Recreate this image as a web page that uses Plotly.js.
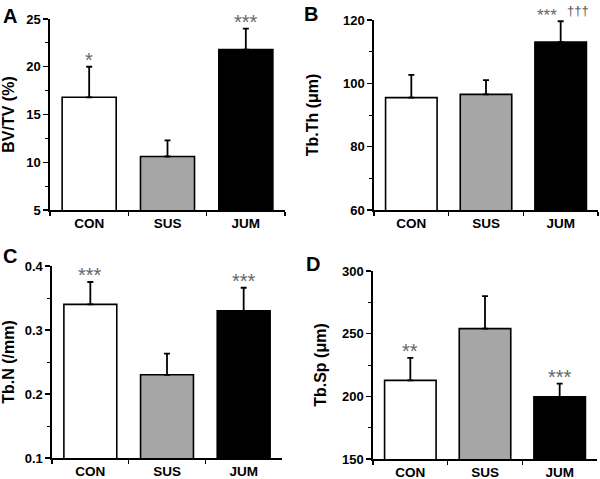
<!DOCTYPE html>
<html>
<head>
<meta charset="utf-8">
<script src="https://cdn.plot.ly/plotly-3.0.1.min.js"></script>
<style>html,body{margin:0;padding:0;background:#fff;}#chart{width:600px;height:479px;}</style>
</head>
<body>
<div id="chart"></div>
<script>
const categories = ["CON", "SUS", "JUM"];
const barColors = ["#ffffff", "#a6a6a6", "#000000"];

const bvtv = [16.8, 10.6, 21.8];
const bvtvErr = [3.2, 1.7, 2.2];
const bvtvSig = ["*", "", "***"];
const bvtvTicks = [5, 10, 15, 20, 25];

const tbth = [95.5, 96.5, 113.0];
const tbthErr = [7.2, 4.5, 6.6];
const tbthSig = ["", "", "***"];
const tbthSigVsSus = ["", "", "\u2020\u2020\u2020"];
const tbthTicks = [60, 80, 100, 120];

const tbn = [0.34, 0.23, 0.33];
const tbnErr = [0.035, 0.033, 0.036];
const tbnSig = ["***", "", "***"];
const tbnTicks = [0.1, 0.2, 0.3, 0.4];

const tbsp = [212.7, 254.0, 199.6];
const tbspErr = [18, 26, 10.5];
const tbspSig = ["**", "", "***"];
const tbspTicks = [150, 200, 250, 300];

const FONT = "Liberation Sans, Arial, sans-serif";

const panels = [
  {vals: bvtv, err: bvtvErr, sig: bvtvSig, ticks: bvtvTicks, title: "BV/TV (%)", range: [5, 25], minor: 2.5, label: "A",
   px: [50, 285], py: [19, 210], standoff: 8, sigSize: 20, sigShift: 0},
  {vals: tbth, err: tbthErr, sig: tbthSig, ticks: tbthTicks, title: "Tb.Th (\u03bcm)", range: [60, 120], minor: 10, label: "B",
   px: [374, 598], py: [20, 210], standoff: 20, sigSize: 17, sigShift: -14},
  {vals: tbn, err: tbnErr, sig: tbnSig, ticks: tbnTicks, title: "Tb.N (/mm)", range: [0.1, 0.4], minor: 0.05, label: "C",
   px: [52, 282], py: [266, 458], standoff: 9, sigSize: 20, sigShift: 0},
  {vals: tbsp, err: tbspErr, sig: tbspSig, ticks: tbspTicks, title: "Tb.Sp (\u03bcm)", range: [150, 300], minor: 25, label: "D",
   px: [373, 597], py: [271, 459], standoff: 11, sigSize: 20, sigShift: 0}
];
const labelPos = [[1, 3], [302, 1], [1, 243], [304, 251]];

const W = 600, H = 479;
const traces = [];
const layout = {
  width: W, height: H,
  margin: {l: 0, r: 0, t: 0, b: 0},
  paper_bgcolor: "#fff", plot_bgcolor: "#fff",
  showlegend: false,
  font: {family: FONT, color: "#000"},
  annotations: []
};

panels.forEach((p, i) => {
  const n = i + 1;
  const xa = n === 1 ? "x" : "x" + n;
  const ya = n === 1 ? "y" : "y" + n;
  traces.push({
    type: "bar", x: categories, y: p.vals, xaxis: xa, yaxis: ya,
    width: 0.69,
    marker: {color: barColors, line: {color: "#000", width: 1.6}},
    error_y: {type: "data", symmetric: false, array: p.err, arrayminus: p.err.map(() => 0),
              color: "#000", thickness: 1.8, width: 3},
    hoverinfo: "none"
  });
  const xk = n === 1 ? "xaxis" : "xaxis" + n;
  const yk = n === 1 ? "yaxis" : "yaxis" + n;
  layout[xk] = {
    domain: [p.px[0] / W, p.px[1] / W], anchor: ya,
    type: "category", range: [-0.5, 2.5],
    tickmode: "array", tickvals: categories, ticktext: categories.map(c => "<b>" + c + "</b>"),
    showline: true, linecolor: "#000", linewidth: 1.6,
    ticks: "outside", tickson: "boundaries", ticklen: 4, tickwidth: 1.2, tickcolor: "#000",
    showgrid: false, zeroline: false, fixedrange: true,
    tickfont: {size: 13.5, family: FONT, color: "#000"}
  };
  layout[yk] = {
    domain: [(H - p.py[1]) / H, (H - p.py[0]) / H], anchor: xa,
    range: p.range,
    tickmode: "array", tickvals: p.ticks, ticktext: p.ticks.map(t => "<b>" + t + "</b>"),
    showline: true, linecolor: "#000", linewidth: 1.6,
    ticks: "outside", ticklen: 5, tickwidth: 1.2, tickcolor: "#000",
    minor: {dtick: p.minor, tick0: p.range[0], ticks: "outside", ticklen: 3, tickwidth: 1, tickcolor: "#000", showgrid: false},
    showgrid: false, zeroline: false, fixedrange: true,
    tickfont: {size: 13, family: FONT, color: "#000"},
    title: {text: "<b>" + p.title + "</b>", standoff: p.standoff, font: {size: 16, family: FONT, color: "#000"}}
  };
  p.sig.forEach((s, j) => {
    if (!s) return;
    layout.annotations.push({
      x: categories[j], y: p.vals[j] + p.err[j], xref: xa, yref: ya,
      text: s, showarrow: false, yanchor: "bottom", yshift: -6, xshift: p.sigShift,
      font: {size: p.sigSize, color: "#666", family: FONT}
    });
  });
  layout.annotations.push({
    x: labelPos[i][0] / W, y: 1 - labelPos[i][1] / H, xref: "paper", yref: "paper",
    xanchor: "left", yanchor: "top", showarrow: false, text: "<b>" + p.label + "</b>",
    font: {size: 20, color: "#000", family: FONT}
  });
});

tbthSigVsSus.forEach((s, j) => {
  if (!s) return;
  layout.annotations.push({
    x: categories[j], y: tbth[j] + tbthErr[j], xref: "x2", yref: "y2",
    text: s, showarrow: false, yanchor: "bottom", yshift: 1, xshift: 17,
    font: {size: 13, color: "#555", family: FONT}
  });
});

Plotly.newPlot("chart", traces, layout, {displayModeBar: false, staticPlot: true});
</script>
</body>
</html>
